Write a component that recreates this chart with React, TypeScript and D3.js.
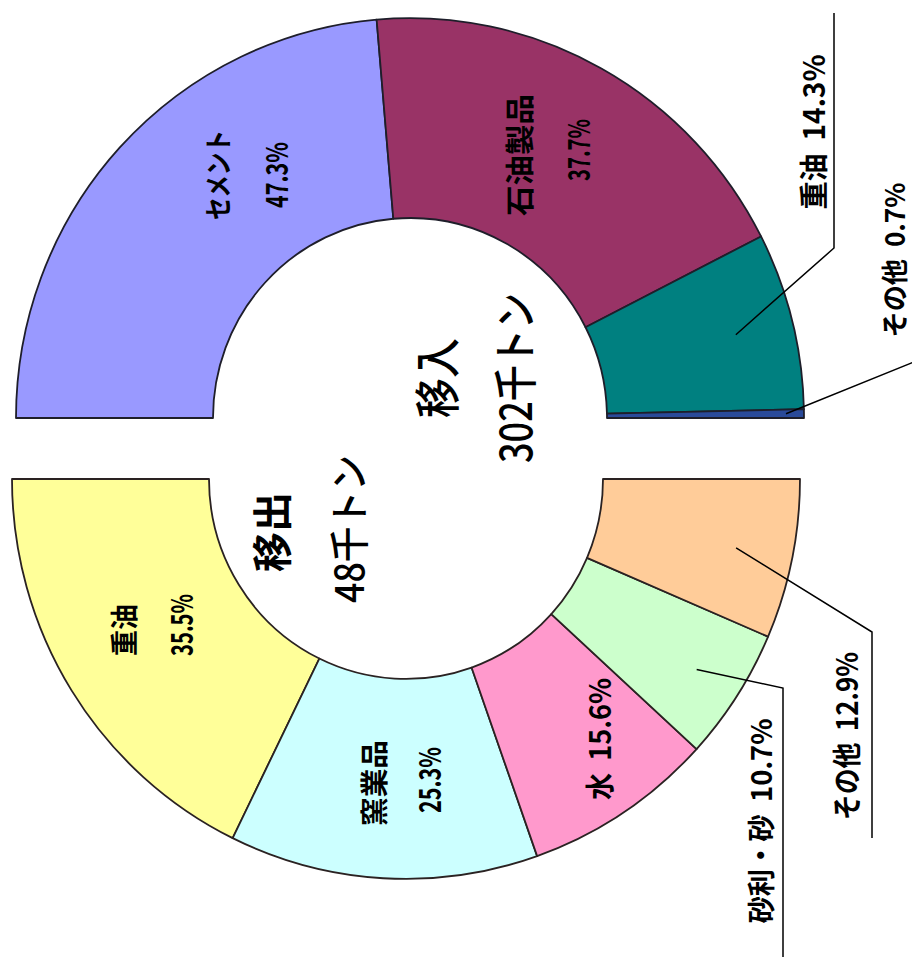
import React from "react";
import * as d3 from "d3";

// 移入 (inbound) breakdown, in percent
const inboundTitle = "移入";
const inboundTotal = "302千トン";
const inboundCategories = ["セメント", "石油製品", "重油", "その他"];
const inboundShares = [47.3, 37.7, 14.3, 0.7];
const inboundColors = ["#9999FF", "#993366", "#008080", "#2A4A9A"];

// 移出 (outbound) breakdown, in percent
const outboundTitle = "移出";
const outboundTotal = "48千トン";
const outboundCategories = ["重油", "窯業品", "水", "砂利・砂", "その他"];
const outboundShares = [35.5, 25.3, 15.6, 10.7, 12.9];
const outboundColors = ["#FFFF99", "#CCFFFF", "#FF99CC", "#CCFFCC", "#FFCC99"];

const W = 912;
const H = 960;
const R_OUT = 394;
const R_IN = 197;
const SY = 1.015; // slight vertical stretch of the rings

const FONT = "'Noto Sans CJK JP', 'Noto Sans', sans-serif";

const pct = (v: number) => `${v.toFixed(1)}%`;

type Line = { text: string; x: number; y: number; len: number; size: number; weight?: number };

function VText({ l }: { l: Line }) {
  return (
    <text
      transform={`translate(${l.x},${l.y}) rotate(-90)`}
      textAnchor="middle"
      dominantBaseline="central"
      fontFamily={FONT}
      fontSize={l.size}
      fontWeight={l.weight ?? 700}
      textLength={l.len}
      lengthAdjust="spacingAndGlyphs"
      fill="#000"
      style={{ whiteSpace: "pre" }}
    >
      {l.text}
    </text>
  );
}

export default function App() {
  const arc = d3.arc<d3.PieArcDatum<number>>().innerRadius(R_IN).outerRadius(R_OUT);

  // upper ring: from 9 o'clock clockwise over the top to 3 o'clock
  const inPie = d3
    .pie<number>()
    .sort(null)
    .startAngle(-Math.PI / 2)
    .endAngle(Math.PI / 2)(inboundShares);

  // lower ring: from 9 o'clock counter-clockwise under the bottom to 3 o'clock
  const outPie = d3
    .pie<number>()
    .sort(null)
    .startAngle((3 * Math.PI) / 2)
    .endAngle(Math.PI / 2)(outboundShares);

  const inC = { x: 410, y: 418 };
  const outC = { x: 406, y: 479 };

  const polar = (c: { x: number; y: number }, a: number, r: number) => ({
    x: c.x + r * Math.sin(a),
    y: c.y - r * Math.cos(a) * SY,
  });
  const mid = (d: d3.PieArcDatum<number>) => (d.startAngle + d.endAngle) / 2;

  // leader lines for the narrow slices: start inside slice, elbow, then run along the label
  const inLeaders = [
    { i: 2, r: 336, elbow: { x: 834, y: 248 }, end: { x: 834, y: 13 } },
    { i: 3, r: 376, elbow: { x: 914, y: 362 }, end: { x: 914, y: 200 } },
  ];
  const outLeaders = [
    { i: 4, r: 337, elbow: { x: 872, y: 632 }, end: { x: 872, y: 838 } },
    { i: 3, r: 346, elbow: { x: 783, y: 688 }, end: { x: 783, y: 957 } },
  ];

  const inLabels: Line[] = [
    { text: inboundCategories[0], x: 217, y: 175, len: 90, size: 28 },
    { text: pct(inboundShares[0]), x: 275, y: 175, len: 66, size: 30 },
    { text: inboundCategories[1], x: 518, y: 155, len: 122, size: 29 },
    { text: pct(inboundShares[1]), x: 577, y: 150, len: 62, size: 30 },
    { text: `${inboundCategories[2]}  ${pct(inboundShares[2])}`, x: 812, y: 132, len: 155, size: 29 },
    { text: `${inboundCategories[3]}  ${pct(inboundShares[3])}`, x: 893, y: 260, len: 155, size: 27 },
    { text: inboundTitle, x: 434, y: 378, len: 80, size: 46, weight: 500 },
    { text: inboundTotal, x: 513, y: 378, len: 170, size: 44, weight: 500 },
  ];

  const outLabels: Line[] = [
    { text: outboundCategories[0], x: 123, y: 630, len: 52, size: 28 },
    { text: pct(outboundShares[0]), x: 180, y: 625, len: 62, size: 30 },
    { text: outboundCategories[1], x: 373, y: 783, len: 86, size: 28 },
    { text: pct(outboundShares[1]), x: 428, y: 780, len: 66, size: 30 },
    { text: `${outboundCategories[2]}  ${pct(outboundShares[2])}`, x: 598, y: 739, len: 122, size: 29 },
    { text: `${outboundCategories[3]}  ${pct(outboundShares[3])}`, x: 760, y: 821, len: 205, size: 28 },
    { text: `${outboundCategories[4]}  ${pct(outboundShares[4])}`, x: 845, y: 736, len: 168, size: 29 },
    { text: outboundTitle, x: 270, y: 532, len: 80, size: 40, weight: 700 },
    { text: outboundTotal, x: 347, y: 529, len: 148, size: 40, weight: 500 },
  ];

  return (
    <svg
      width={W}
      height={H}
      viewBox={`0 0 ${W} ${H}`}
      style={{ position: "absolute", left: 0, top: 0, background: "#fff" }}
    >
      <g transform={`translate(${inC.x},${inC.y}) scale(1,${SY})`}>
        {inPie.map((d, i) => (
          <path
            key={i}
            d={arc(d) || ""}
            fill={inboundColors[i]}
            stroke="#1e1e2a"
            strokeWidth={1.8}
            strokeLinejoin="round"
            vectorEffect="non-scaling-stroke"
          />
        ))}
      </g>
      <g transform={`translate(${outC.x},${outC.y}) scale(1,${SY})`}>
        {outPie.map((d, i) => (
          <path
            key={i}
            d={arc(d) || ""}
            fill={outboundColors[i]}
            stroke="#2a2222"
            strokeWidth={1.8}
            strokeLinejoin="round"
            vectorEffect="non-scaling-stroke"
          />
        ))}
      </g>

      {inLeaders.map((l, k) => {
        const p = polar(inC, mid(inPie[l.i]), l.r);
        return (
          <polyline
            key={`il${k}`}
            points={`${p.x},${p.y} ${l.elbow.x},${l.elbow.y} ${l.end.x},${l.end.y}`}
            fill="none"
            stroke="#000"
            strokeWidth={1.5}
          />
        );
      })}
      {outLeaders.map((l, k) => {
        const p = polar(outC, mid(outPie[l.i]), l.r);
        return (
          <polyline
            key={`ol${k}`}
            points={`${p.x},${p.y} ${l.elbow.x},${l.elbow.y} ${l.end.x},${l.end.y}`}
            fill="none"
            stroke="#000"
            strokeWidth={1.5}
          />
        );
      })}

      {inLabels.map((l, k) => (
        <VText key={`it${k}`} l={l} />
      ))}
      {outLabels.map((l, k) => (
        <VText key={`ot${k}`} l={l} />
      ))}
    </svg>
  );
}
